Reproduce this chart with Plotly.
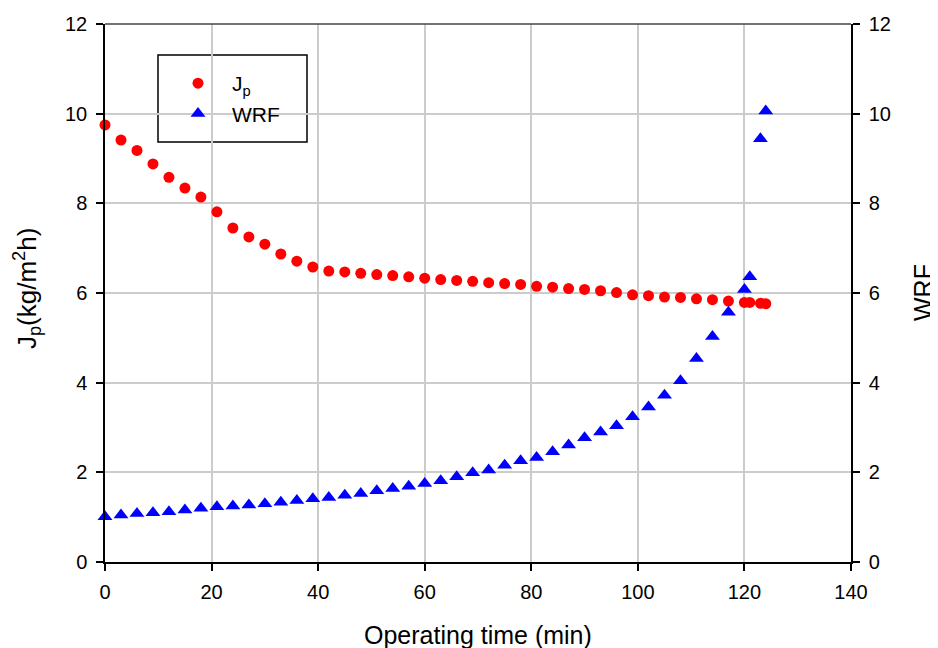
import plotly.graph_objects as go

# ---- data ----
time_jp = [0, 3, 6, 9, 12, 15, 18, 21, 24, 27, 30, 33, 36, 39, 42, 45, 48, 51, 54, 57,
           60, 63, 66, 69, 72, 75, 78, 81, 84, 87, 90, 93, 96, 99, 102, 105, 108, 111,
           114, 117, 120, 121, 123, 124]
jp = [9.75, 9.41, 9.18, 8.88, 8.58, 8.34, 8.14, 7.81, 7.45, 7.25, 7.09, 6.87, 6.71, 6.58,
      6.49, 6.47, 6.44, 6.41, 6.39, 6.36, 6.33, 6.30, 6.28, 6.26, 6.23, 6.21, 6.19, 6.15,
      6.13, 6.10, 6.08, 6.05, 6.01, 5.96, 5.94, 5.91, 5.90, 5.87, 5.85, 5.82, 5.79, 5.79,
      5.77, 5.76]

time_wrf = [0, 3, 6, 9, 12, 15, 18, 21, 24, 27, 30, 33, 36, 39, 42, 45, 48, 51, 54, 57,
            60, 63, 66, 69, 72, 75, 78, 81, 84, 87, 90, 93, 96, 99, 102, 105, 108, 111,
            114, 117, 120, 121, 123, 124]
wrf = [1.01, 1.05, 1.08, 1.10, 1.12, 1.16, 1.20, 1.23, 1.25, 1.27, 1.30, 1.33, 1.37, 1.41,
       1.44, 1.49, 1.53, 1.59, 1.64, 1.69, 1.75, 1.81, 1.90, 1.99, 2.05, 2.16, 2.26, 2.33,
       2.46, 2.61, 2.77, 2.90, 3.04, 3.24, 3.46, 3.72, 4.04, 4.54, 5.03, 5.57, 6.08, 6.36,
       9.44, 10.06]

x_ticks = [0, 20, 40, 60, 80, 100, 120, 140]
y_ticks = [0, 2, 4, 6, 8, 10, 12]

FONT = "Liberation Sans, Arial, sans-serif"

fig = go.Figure()
fig.add_trace(go.Scatter(
    x=time_jp, y=jp, mode="markers", name="J<sub>p</sub>",
    marker=dict(symbol="circle", size=11, color="#ff0000", line=dict(width=0)),
    cliponaxis=False, yaxis="y"))
fig.add_trace(go.Scatter(
    x=time_wrf, y=wrf, mode="markers", name="WRF",
    marker=dict(symbol="triangle-up", size=13, color="#0000ff", line=dict(width=0)),
    cliponaxis=False, yaxis="y2"))

axis_common = dict(
    showline=True, linecolor="black", linewidth=1.5,
    ticks="outside", ticklen=7, tickwidth=1.5, tickcolor="black",
    tickfont=dict(family=FONT, size=20, color="black"),
    zeroline=False, automargin=False,
)

# The page body has an 8px default margin, so the figure is made 8px smaller
# and the margins are reduced to place the plot area where the reference has it.
PW, PH = 746, 538  # plot-area size in pixels
fig.update_layout(
    width=930, height=640,
    margin=dict(l=97, r=87, t=16, b=86),
    paper_bgcolor="white", plot_bgcolor="white",
    font=dict(family=FONT, color="black"),
    showlegend=True,
    xaxis=dict(range=[0, 140], tickvals=x_ticks, showgrid=True, ticklabelstandoff=4,
               gridcolor="#cccccc", gridwidth=1.5, **axis_common),
    yaxis=dict(range=[0, 12], tickvals=y_ticks, showgrid=True, ticklabelstandoff=5,
               gridcolor="#cccccc", gridwidth=1.5, **axis_common),
    yaxis2=dict(range=[0, 12], tickvals=y_ticks, overlaying="y", side="right",
                ticklabelstandoff=5, showgrid=False, **axis_common),
    legend=dict(x=(164 - 105) / PW, y=(562 - 63) / PH, xanchor="left", yanchor="top",
                bgcolor="rgba(0,0,0,0)", borderwidth=0, itemwidth=58,
                font=dict(family=FONT, size=21, color="black"),
                tracegroupgap=0),
    shapes=[
        dict(type="rect", xref="paper", yref="paper",
             x0=(158 - 105) / PW, x1=(307 - 105) / PW,
             y0=(562 - 142) / PH, y1=(562 - 55) / PH,
             line=dict(color="black", width=1.5), fillcolor="white", layer="below"),
        dict(type="line", xref="paper", yref="paper", x0=0, x1=1, y0=1, y1=1,
             line=dict(color="#444444", width=1.5)),
    ],
    annotations=[
        dict(text="Operating time (min)", xref="paper", yref="paper",
             x=0.5, y=-(635 - 562) / PH, xanchor="center", yanchor="middle",
             showarrow=False, font=dict(family=FONT, size=25, color="black")),
        dict(text="J<sub>p</sub>(kg/m<sup>2</sup>h)", xref="paper", yref="paper",
             x=-(105 - 27) / PW, y=(562 - 289) / PH, xanchor="center", yanchor="middle",
             showarrow=False, textangle=-90,
             font=dict(family=FONT, size=26, color="black")),
        dict(text="WRF", xref="paper", yref="paper",
             x=1 + (923 - 851) / PW, y=0.5, xanchor="center", yanchor="middle",
             showarrow=False, textangle=-90,
             font=dict(family=FONT, size=25, color="black")),
    ],
)

fig.write_html("out.html")
